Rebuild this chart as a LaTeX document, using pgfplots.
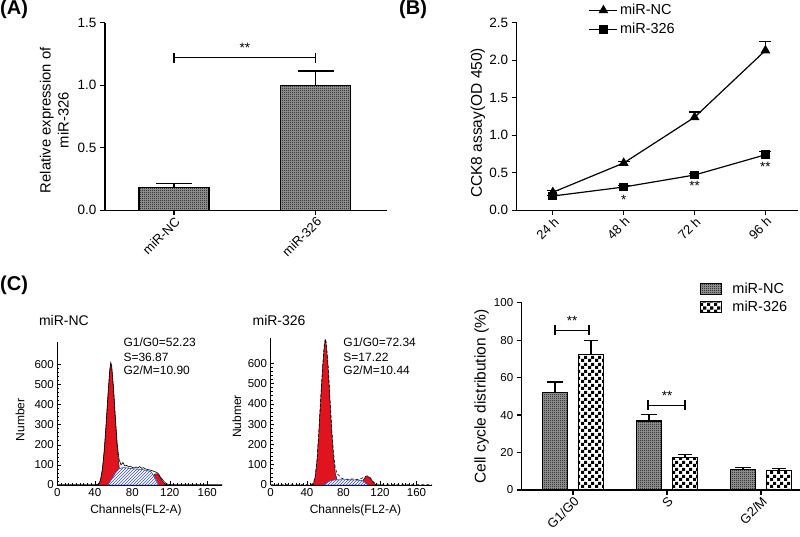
\documentclass[border=0pt]{standalone}
\usepackage{fontspec}
\setmainfont{Liberation Sans}
\usepackage{pgfplots}
\pgfplotsset{compat=1.18}
\usetikzlibrary{patterns}
\definecolor{histred}{HTML}{E0141E}
\definecolor{hatchblue}{HTML}{3A4FC0}
\definecolor{checkbg}{HTML}{A0A0A0}

\pgfdeclarepatternformonly{finecheck}{\pgfpointorigin}{\pgfpoint{2pt}{2pt}}{\pgfpoint{2pt}{2pt}}{%
  \pgfpathrectangle{\pgfpointorigin}{\pgfpoint{1pt}{1pt}}%
  \pgfpathrectangle{\pgfpoint{1pt}{1pt}}{\pgfpoint{1pt}{1pt}}%
  \pgfusepath{fill}}
\pgfdeclarepatternformonly{bigcheck}{\pgfpointorigin}{\pgfpoint{7pt}{7pt}}{\pgfpoint{7pt}{7pt}}{%
  \pgfpathrectangle{\pgfpointorigin}{\pgfpoint{3.5pt}{3.5pt}}%
  \pgfpathrectangle{\pgfpoint{3.5pt}{3.5pt}}{\pgfpoint{3.5pt}{3.5pt}}%
  \pgfusepath{fill}}

\newcommand{\ftick}{\fontsize{13.5}{16}\selectfont}
\newcommand{\fxtick}{\fontsize{13}{15}\selectfont}
\newcommand{\fctick}{\fontsize{11.5}{14}\selectfont}
\newcommand{\flab}{\fontsize{14.8}{18}\selectfont}
\newcommand{\fleg}{\fontsize{14.5}{17}\selectfont}
\newcommand{\fhist}{\fontsize{11.5}{13}\selectfont}
\newcommand{\fhtxt}{\fontsize{12}{14}\selectfont}

\pgfplotsset{
  prism/.style={
    scale only axis, anchor=south west, clip=false,
    axis x line*=bottom, axis y line*=left,
    axis line style={line width=1.2pt},
    tick style={line width=1.2pt, black},
    tick align=outside, major tick length=5pt,
    yticklabel style={font=\ftick},
    /pgf/number format/assume math mode=true,
    label style={font=\flab},
    xticklabel style={rotate=45, anchor=east, font=\fxtick, xshift=3pt, yshift=-5.5pt},
  },
  flow/.style={
    scale only axis, anchor=south west, clip=false,
    axis x line*=bottom, axis y line*=left,
    axis line style={line width=0.8pt},
    tick style={line width=0.6pt, black},
    tick align=inside, major tick length=3.5pt, minor tick length=2pt,
    xtick={0,40,80,120,160}, ytick={0,100,200,300,400,500,600},
    minor x tick num=9, minor y tick num=4,
    xmin=0, ymin=0,
    tick label style={font=\fhist},
    /pgf/number format/assume math mode=true,
    label style={font=\fhtxt},
  },
  errs/.style={error bars/.cd, y dir=plus, y explicit,
    error bar style={line width=1.2pt, black},
    error mark options={rotate=90, line width=1.2pt, black, mark size=#1}},
}

\begin{document}
\begin{tikzpicture}
\path[use as bounding box] (0pt,0pt) rectangle (800pt,537pt);

% ---------- (A)
\begin{axis}[prism, at={(105pt,326.7pt)}, width=282pt, height=187.6pt,
  xmin=-0.488, xmax=1.505, ymin=0, ymax=1.5,
  ytick={0,0.5,1,1.5},
  yticklabel style={/pgf/number format/.cd, fixed, fixed zerofill, precision=1},
  xtick={0,1}, xticklabels={miR-NC,miR-326},
  ylabel={Relative expression of\\miR-326},
  ylabel style={align=center, at={(axis description cs:-0.18,0.48)}, anchor=center}]
\addplot[ybar, bar width=70pt, draw=black, line width=1.2pt, fill=checkbg,
  postaction={pattern=finecheck}, errs=18pt]
  coordinates {(0,0.18) +- (0,0.036) (1,1.00) +- (0,0.114)};
\draw[line width=1.2pt] (axis cs:0,1.22) -- (axis cs:1,1.22);
\draw[line width=1.2pt] (axis cs:0,1.22) ++(0pt,-5pt) -- ++(0pt,10pt);
\draw[line width=1.2pt] (axis cs:1,1.22) ++(0pt,-5pt) -- ++(0pt,10pt);
\node[font=\ftick] at (axis cs:0.5,1.22) [yshift=10pt] {**};
\end{axis}

% ---------- (B)
\begin{axis}[prism, at={(516.7pt,326.7pt)}, width=281.3pt, height=187.6pt,
  xmin=-0.51, xmax=3.46, ymin=0, ymax=2.5,
  ytick={0,0.5,1,1.5,2,2.5},
  yticklabel style={/pgf/number format/.cd, fixed, fixed zerofill, precision=1},
  xtick={0,1,2,3}, xticklabels={24 h,48 h,72 h,96 h},
  ylabel={CCK8 assay(OD 450)},
  label style={font=\fontsize{15.5}{18}\selectfont},
  ylabel style={at={(axis description cs:-0.138,0.466)}, anchor=center},
  legend style={at={(axis description cs:0.245,1.12)}, anchor=north west,
    draw=none, fill=none, font=\fleg, row sep=3pt},
  legend cell align=left,
  legend image code/.code={\draw[mark repeat=2, mark phase=2, #1]
    plot coordinates {(0pt,0pt) (14pt,0pt) (28pt,0pt)};}]
\addplot[black, line width=1.2pt, mark=triangle*, mark size=4.5pt, errs=6pt]
  coordinates {(0,0.24) +- (0,0.02) (1,0.63) +- (0,0.02) (2,1.24) +- (0,0.07) (3,2.13) +- (0,0.12)};
\addplot[black, line width=1.2pt, mark=square*, mark size=3.8pt, errs=6pt]
  coordinates {(0,0.19) +- (0,0.01) (1,0.31) +- (0,0.02) (2,0.47) +- (0,0.02) (3,0.74) +- (0,0.04)};
\legend{miR-NC, miR-326}
\node[font=\ftick] at (axis cs:1,0.31) [yshift=-13pt] {*};
\node[font=\ftick] at (axis cs:2,0.47) [yshift=-11pt] {**};
\node[font=\ftick] at (axis cs:3,0.74) [yshift=-12pt] {**};
\end{axis}

% ---------- (C) cell cycle bars
\begin{axis}[prism, at={(521.7pt,47pt)}, width=278.3pt, height=187.3pt,
  xmin=-0.546, xmax=2.415, ymin=0, ymax=100,
  ytick={0,20,40,60,80,100},
  yticklabel style={font=\fctick},
  xtick={0,1,2}, xticklabels={G1/G0,S,G2/M},
  ybar=11pt, bar width=25pt,
  ylabel={Cell cycle distribution (\%)},
  label style={font=\fontsize{15.5}{18}\selectfont},
  ylabel style={at={(axis description cs:-0.144,0.498)}, anchor=center},
  legend style={at={(axis description cs:0.63,1.125)}, anchor=north west,
    draw=none, fill=none, font=\fleg, row sep=2pt},
  legend cell align=left,
  legend image code/.code={\draw[#1, line width=0.9pt] (0pt,-5pt) rectangle (21pt,6pt);
    \path (0pt,0pt) (29pt,0pt);}]
\addplot[draw=black, line width=1.2pt, fill=checkbg, postaction={pattern=finecheck}, errs=8pt]
  coordinates {(0,52.23) +- (0,5.4) (1,36.87) +- (0,3.6) (2,10.90) +- (0,1.0)};
\addplot[draw=black, line width=1.2pt, fill=white, postaction={pattern=bigcheck}, errs=7pt]
  coordinates {(0,72.34) +- (0,7.3) (1,17.22) +- (0,1.8) (2,10.44) +- (0,0.9)};
\legend{miR-NC, miR-326}
\draw[line width=1.2pt] (axis cs:0,85.3) ++(-18pt,0pt) -- ++(34pt,0pt);
\draw[line width=1.2pt] (axis cs:0,85.3) ++(-18pt,-5pt) -- ++(0pt,10pt);
\draw[line width=1.2pt] (axis cs:0,85.3) ++(16pt,-5pt) -- ++(0pt,10pt);
\node[font=\ftick] at (axis cs:0,85.3) [xshift=-1pt, yshift=9pt] {**};
\draw[line width=1.2pt] (axis cs:1,45.3) ++(-19pt,0pt) -- ++(37pt,0pt);
\draw[line width=1.2pt] (axis cs:1,45.3) ++(-19pt,-5pt) -- ++(0pt,10pt);
\draw[line width=1.2pt] (axis cs:1,45.3) ++(18pt,-5pt) -- ++(0pt,10pt);
\node[font=\ftick] at (axis cs:1,45.3) [yshift=9pt] {**};
\end{axis}

% ---------- (C) histogram miR-NC
\begin{axis}[flow, at={(57.3pt,52pt)}, width=165pt, height=143.3pt,
  xmax=176, ymax=713,
  ylabel={Number}, ylabel style={at={(axis description cs:-0.226,0.454)}, anchor=center},
  xlabel={Channels(FL2-A)}, xlabel style={at={(axis description cs:0.477,-0.174)}, anchor=center}]
\addplot[fill=histred, draw=black, line width=0.4pt]
  coordinates {(98,0) (101,30) (104,55) (107,55) (110,35) (113,12) (116,3) (118,0)} \closedcycle;
\addplot[fill=histred, draw=black, line width=0.4pt]
  coordinates {(42,0) (45,8) (47,40) (49,110) (51,220) (53,360) (55,500) (56,570) (57,600)
    (58,585) (60,470) (62,320) (64,180) (66,90) (68,40) (70,15) (72,0)} \closedcycle;
\addplot[draw=hatchblue, line width=0.4pt, fill=white,
  postaction={pattern=north east lines, pattern color=hatchblue}]
  coordinates {(54,0) (58,30) (62,60) (66,82) (70,86) (76,84) (82,80) (88,78) (94,74)
    (100,66) (103,45) (106,20) (108,0)} \closedcycle;
\addplot[black, line width=0.6pt]
  coordinates {(0,1) (40,1) (44,4) (46,25) (48,75) (50,170) (52,300) (54,450) (56,575) (57,610)
    (58,595) (60,480) (62,330) (64,200) (66,125) (68,100) (70,112) (72,94) (74,98) (76,90)
    (78,94) (80,87) (82,85) (84,90) (86,84) (88,92) (90,83) (92,86) (94,80) (96,78) (98,75)
    (100,73) (102,70) (104,66) (106,63) (108,55) (110,40) (112,28) (114,16) (116,8) (118,3)
    (122,2) (130,1) (176,1)};
\node[font=\fontsize{14}{16}\selectfont, anchor=center] at (axis description cs:0.04,1.151) {miR-NC};
\node[font=\fhtxt, anchor=west] at (axis description cs:0.38,0.993) {G1/G0=52.23};
\node[font=\fhtxt, anchor=west] at (axis description cs:0.38,0.893) {S=36.87};
\node[font=\fhtxt, anchor=west] at (axis description cs:0.38,0.802) {G2/M=10.90};
\end{axis}

% ---------- (C) histogram miR-326
\begin{axis}[flow, at={(270.5pt,52pt)}, width=161.5pt, height=147pt,
  xmax=177, ymax=725,
  ylabel={Nubmer}, ylabel style={at={(axis description cs:-0.209,0.465)}, anchor=center},
  xlabel={Channels(FL2-A)}, xlabel style={at={(axis description cs:0.526,-0.17)}, anchor=center}]
\addplot[fill=histred, draw=black, line width=0.4pt]
  coordinates {(98,0) (101,20) (104,40) (107,42) (110,30) (113,10) (116,0)} \closedcycle;
\addplot[fill=histred, draw=black, line width=0.4pt]
  coordinates {(44,0) (47,5) (49,40) (51,120) (53,260) (55,420) (57,570) (59,690) (60,712)
    (61,695) (63,590) (65,430) (67,270) (69,140) (71,60) (73,25) (75,8) (77,0)} \closedcycle;
\addplot[draw=hatchblue, line width=0.4pt, fill=white,
  postaction={pattern=north east lines, pattern color=hatchblue}]
  coordinates {(58,0) (62,12) (66,22) (70,25) (80,26) (90,25) (98,24) (102,18) (105,8) (107,0)} \closedcycle;
\addplot[black, line width=0.6pt, densely dashed]
  coordinates {(0,1) (40,1) (44,2) (47,8) (49,45) (51,125) (53,265) (55,425) (57,575) (59,695)
    (60,722) (61,705) (63,600) (65,440) (67,285) (69,160) (71,85) (73,55) (75,48) (77,35)
    (80,30) (85,28) (90,30) (95,27) (100,33) (103,40) (106,45) (108,42) (110,32) (113,14)
    (116,5) (120,2) (130,1) (177,1)};
\node[font=\fontsize{14}{16}\selectfont, anchor=center] at (axis description cs:0.053,1.122) {miR-326};
\node[font=\fhtxt, anchor=west] at (axis description cs:0.43,0.968) {G1/G0=72.34};
\node[font=\fhtxt, anchor=west] at (axis description cs:0.43,0.871) {S=17.22};
\node[font=\fhtxt, anchor=west] at (axis description cs:0.43,0.782) {G2/M=10.44};
\end{axis}

% panel letters
\node[anchor=north west, inner sep=0pt, font=\bfseries\fontsize{20}{22}\selectfont] at (0pt,537pt) {(A)};
\node[anchor=north west, inner sep=0pt, font=\bfseries\fontsize{20}{22}\selectfont] at (399pt,537pt) {(B)};
\node[anchor=north west, inner sep=0pt, font=\bfseries\fontsize{20}{22}\selectfont] at (0pt,261pt) {(C)};
\end{tikzpicture}
\end{document}
